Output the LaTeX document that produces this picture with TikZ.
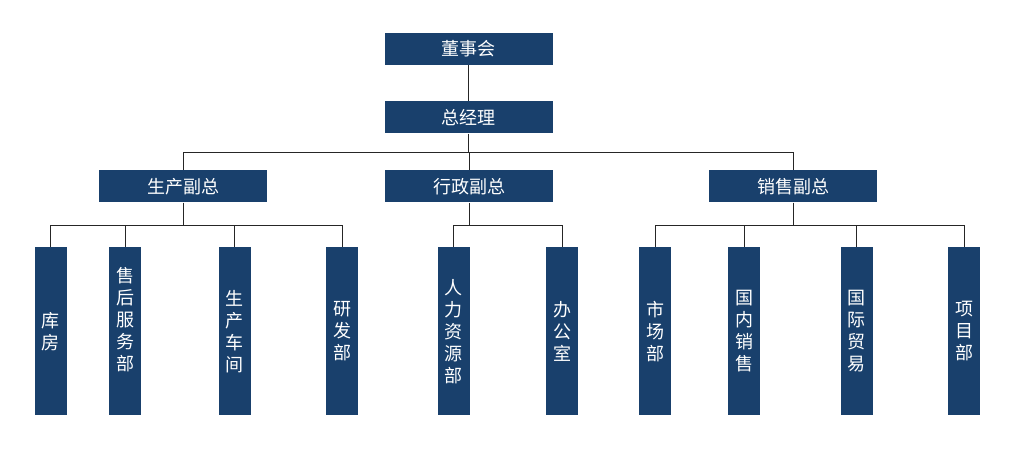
\documentclass[tikz,border=0pt]{standalone}
\usepackage{fontspec}
\setmainfont{Noto Sans CJK SC}
\definecolor{boxblue}{RGB}{25,64,108}

\begin{document}
\begin{tikzpicture}
[x=1pt,y=-1pt,line width=1pt,
  head node/.style={rectangle,fill=boxblue,text=white,minimum width=168pt,minimum height=32pt,inner sep=0pt,font=\fontsize{18}{22}\selectfont},
  dept node/.style={rectangle,fill=boxblue,text=white,minimum width=32pt,minimum height=168pt,inner sep=0pt,align=center,font=\fontsize{18}{22}\selectfont}]

  \useasboundingbox (0,0) rectangle (1020,467);

  \node[head node] (dongshihui) at 	(468.5,48.5) 	{董事会};
  \node[head node] (zongjingli) at 	(468.5,117.3) 	{总经理};

  \node[head node] (shengchan) at 	(183,186.3) 	{生产副总};
  \node[head node] (xingzheng) at 	(469,186.3) 	{行政副总};
  \node[head node] (xiaoshou) at 	(793,186.3) 	{销售副总};

  \node[dept node] (kufang) at 		(50.5,331.3) 	{库\\房};
  \node[dept node,text depth=25pt] (shouhou) at 	(125,331.3) 	{售\\后\\服\\务\\部};
  \node[dept node] (chejian) at 	(234.7,331.3) 	{生\\产\\车\\间};
  \node[dept node] (yanfa) at 		(342.3,331.3) 	{研\\发\\部};

  \node[dept node] (renli) at 		(453.5,331.3) 	{人\\力\\资\\源\\部};
  \node[dept node] (bangong) at 	(562.3,331.3) 	{办\\公\\室};

  \node[dept node] (shichang) at 	(655,331.3) 	{市\\场\\部};
  \node[dept node] (guonei) at 		(744,331.3) 	{国\\内\\销\\售};
  \node[dept node] (guoji) at 		(856.5,331.3) 	{国\\际\\贸\\易};
  \node[dept node] (xiangmu) at 	(964,331.3) 	{项\\目\\部};

  \draw[black!85] (dongshihui) -- (zongjingli);

  \foreach \to in {shengchan,xingzheng,xiaoshou}
    \draw[black!85] (zongjingli.south) -- ++(0,18.6) -| (\to.north);

  \foreach \from/\to in {shengchan/kufang,shengchan/shouhou,shengchan/chejian,shengchan/yanfa, xingzheng/renli, xingzheng/bangong, xiaoshou/shichang, xiaoshou/guonei, xiaoshou/guoji, xiaoshou/xiangmu}
    \draw[black!85] (\from.south) -- ++(0,22.5) -| (\to.north);

\end{tikzpicture}
\end{document}
